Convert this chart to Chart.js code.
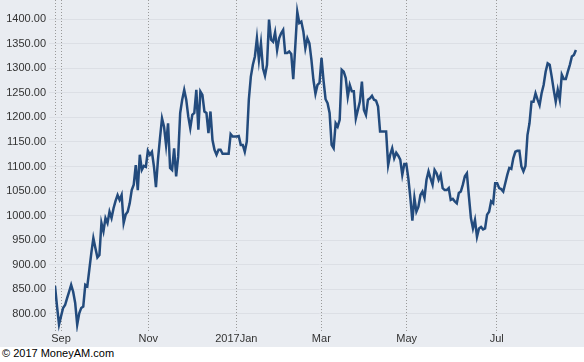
<!DOCTYPE html>
<html>
<head>
  <style>
    body {
        margin: 0;
        background: #fff;
        overflow: hidden;
    }
    .chart-box {
        position: relative;
        width: 584px;
        height: 347px;
        background: #e9ecf1;
    }
    .credit {
        height: 15px;
        line-height: 15px;
        padding-left: 2px;
        font: 11px "Liberation Sans", Arial, sans-serif;
        color: #000;
    }
  </style>
</head>
<body>
  <div class="chart-box">
    <canvas id="priceChart"></canvas>
  </div>
  <div class="credit">© 2017 MoneyAM.com</div>

  <script src="https://cdn.jsdelivr.net/npm/chart.js"></script>
  <script>
    // daily closes, one per trading session
    const closes = [
      857, 815, 778, 795, 812, 818, 832, 845, 859, 845,
      822, 778, 801, 812, 815, 859, 856, 890, 924, 954,
      934, 915, 920, 985, 968, 995, 985, 1008, 995, 1015,
      1030, 1042, 1032, 1042, 985, 1002, 1008, 1025, 1052, 1063,
      1103, 1052, 1124, 1093, 1101, 1099, 1132, 1124, 1130, 1100,
      1058, 1114, 1158, 1198, 1181, 1144, 1188, 1097, 1093, 1137,
      1080, 1120, 1209, 1236, 1256, 1236, 1202, 1178, 1205, 1209,
      1256, 1175, 1253, 1246, 1212, 1209, 1168, 1212, 1154, 1134,
      1124, 1134, 1134, 1126, 1126, 1126, 1126, 1166, 1161, 1161,
      1161, 1162, 1144, 1144, 1130, 1151, 1236, 1283, 1307, 1324,
      1361, 1317, 1351, 1300, 1285, 1307, 1399, 1358, 1354, 1373,
      1337, 1361, 1371, 1378, 1331, 1331, 1334, 1329, 1278, 1344,
      1415, 1392, 1395, 1375, 1341, 1361, 1351, 1317, 1276, 1248,
      1266, 1270, 1321, 1275, 1237, 1229, 1209, 1144, 1137, 1188,
      1181, 1195, 1297, 1293, 1280, 1242, 1266, 1253, 1253, 1198,
      1215, 1232, 1273, 1215, 1205, 1236, 1239, 1244, 1236, 1234,
      1222, 1171, 1171, 1171, 1171, 1103, 1124, 1137, 1117, 1128,
      1122, 1114, 1083, 1105, 1105, 1076, 1036, 990, 1036, 1008,
      1018, 1042, 1049, 1036, 1073, 1090, 1076, 1063, 1093, 1086,
      1073, 1083, 1056, 1052, 1052, 1056, 1032, 1034, 1029, 1025,
      1046, 1049, 1063, 1080, 1086, 1039, 995, 974, 991, 957,
      974, 977, 972, 974, 1002, 1008, 1029, 1025, 1066, 1066,
      1056, 1054, 1049, 1066, 1083, 1097, 1095, 1117, 1130, 1132,
      1132, 1100, 1090, 1101, 1164, 1188, 1232, 1232, 1249, 1236,
      1225, 1249, 1266, 1293, 1310, 1307, 1283, 1256, 1232, 1256,
      1236, 1287, 1278, 1278, 1293, 1307, 1324, 1327, 1337
    ];

    // month starts, in session units
    const monthTicks = [0, 3, 46.2, 89.8, 131.9, 174.2, 218.8];
    const monthLabels = ['', 'Sep', 'Nov', '2017Jan', 'Mar', 'May', 'Jul'];

    const priceTicks = [800, 850, 900, 950, 1000, 1050, 1100, 1150, 1200, 1250, 1300, 1350, 1400];

    const lineColor = '#234b7d';
    const labelFont = { family: '"Liberation Sans", Arial, sans-serif', size: 11 };

    const ctx = document.getElementById('priceChart');

    new Chart(ctx, {
        type: 'line',
        data: {
            datasets: [
                {
                    label: 'Close',
                    data: closes.map((c, i) => ({ x: i, y: c })),
                    borderColor: lineColor,
                    borderWidth: 2.5,
                    pointRadius: 0,
                    tension: 0,
                    fill: false
                }
            ]
        },
        options: {
            responsive: true,
            maintainAspectRatio: false,
            animation: false,
            layout: { padding: 0 },
            plugins: {
                legend: { display: false },
                tooltip: { enabled: false }
            },
            scales: {
                x: {
                    type: 'linear',
                    min: 0,
                    max: 262,
                    afterBuildTicks: axis => {
                        axis.ticks = monthTicks.map(v => ({ value: v }));
                    },
                    afterFit: axis => {
                        axis.height = 15;
                        axis.paddingLeft = 0;
                        axis.paddingRight = 0;
                    },
                    ticks: {
                        autoSkip: false,
                        maxRotation: 0,
                        padding: 0,
                        color: '#333',
                        font: labelFont,
                        callback: (value, index) => monthLabels[index]
                    },
                    grid: {
                        color: '#999',
                        lineWidth: 1,
                        drawTicks: false
                    },
                    border: {
                        display: false,
                        dash: [1, 2]
                    }
                },
                y: {
                    type: 'linear',
                    min: 763,
                    max: 1439,
                    afterBuildTicks: axis => {
                        axis.ticks = priceTicks.map(v => ({ value: v }));
                    },
                    afterFit: axis => {
                        axis.width = 55;
                        axis.paddingTop = 0;
                        axis.paddingBottom = 0;
                    },
                    ticks: {
                        padding: 3,
                        color: '#333',
                        font: labelFont,
                        callback: v => v.toFixed(2)
                    },
                    grid: {
                        color: '#dcdfe5',
                        lineWidth: 1,
                        tickLength: 6
                    },
                    border: {
                        display: false
                    }
                }
            }
        }
    });
  </script>
</body>
</html>
